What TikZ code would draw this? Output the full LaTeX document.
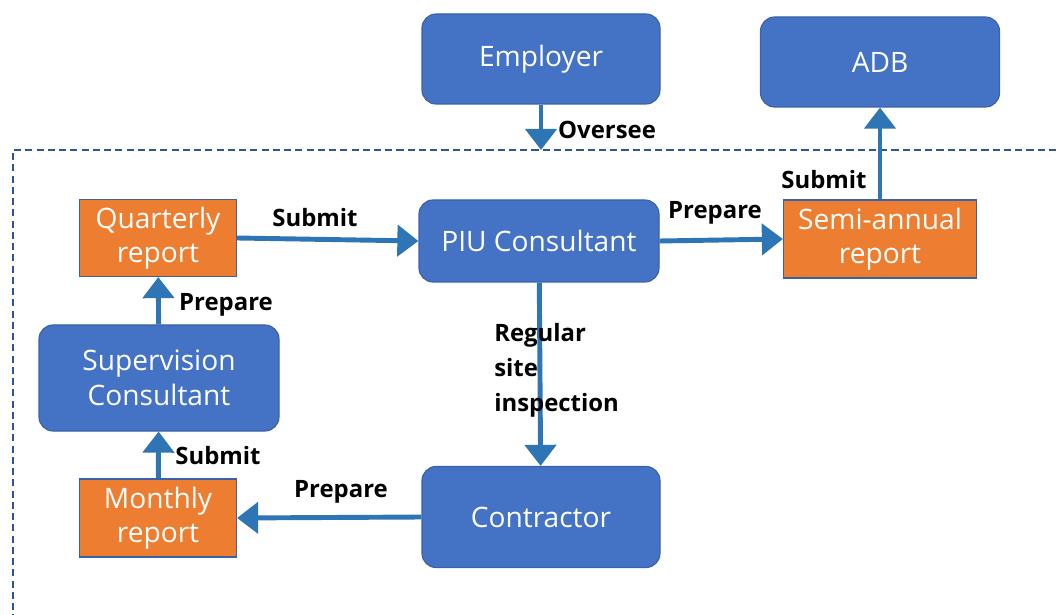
\documentclass[tikz,border=0pt]{standalone}
\usepackage{fontspec}
\setmainfont{Open Sans}
\usetikzlibrary{arrows.meta}
\definecolor{boxblue}{HTML}{4472C4}
\definecolor{boxedge}{HTML}{3A62A8}
\definecolor{repfill}{HTML}{ED7D31}
\definecolor{flowblue}{HTML}{2E75B6}
\definecolor{frameblue}{HTML}{2F5597}
\def\px{0.025cm}

\begin{document}
\begin{tikzpicture}[x=\px,y=-\px]
	\tikzstyle{party}=[rectangle,rounded corners=10pt,fill=boxblue,draw=boxedge,line width=0.8pt,text=white,font=\fontsize{20}{24.5}\selectfont,align=center,inner sep=0pt]
	\tikzstyle{report}=[rectangle,fill=repfill,draw=boxedge,line width=0.8pt,text=white,font=\fontsize{20}{24.5}\selectfont,align=center,inner sep=0pt]
	\tikzstyle{flow}=[-{Triangle[width=22pt,length=15pt]},draw=flowblue,fill=flowblue,line width=3.5pt]
	\tikzstyle{annot}=[font=\fontsize{17}{25}\selectfont\bfseries,inner sep=0pt]
	
	\useasboundingbox (0,0) rectangle (1056,615);
	
	% Dashed frame round the project, cut by the picture's edge
	\draw[frameblue,line width=1pt,dash pattern=on 5pt off 3pt] (1056,150) -- (13,150) -- (13,615);
	\coordinate (frame) at (541,150);
	
	% Parties
	\node[party,minimum width=238*\px,minimum height=90*\px] (employer) at (541,59) {Employer};
	\node[party,minimum width=239*\px,minimum height=90*\px] (adb) at (880,62) {ADB};
	\node[party,minimum width=240*\px,minimum height=82*\px] (piu) at (539,241) {PIU Consultant};
	\node[party,minimum width=240*\px,minimum height=106*\px] (sup) at (159,378) {Supervision\\Consultant};
	\node[party,minimum width=238*\px,minimum height=101*\px] (contractor) at (541,517) {Contractor};
	
	% Reports
	\node[report,minimum width=157*\px,minimum height=77*\px] (quarterly) at (158,238) {Quarterly\\report};
	\node[report,minimum width=193*\px,minimum height=78*\px] (semi) at (880,239) {Semi-annual\\report};
	\node[report,minimum width=157*\px,minimum height=78*\px] (monthly) at (158,518) {Monthly\\report};
	
	% Connect the boxes
	\draw[flow] (employer) -- (frame);
	\draw[flow] (quarterly.east) -- (piu.west);
	\draw[flow] (piu.east) -- (semi.west);
	\draw[flow] (semi) -- (adb);
	\draw[flow] (piu) -- (contractor);
	\draw[flow] (sup) -- (quarterly);
	\draw[flow] (monthly) -- (sup);
	\draw[flow] (contractor.west) -- (monthly.east);
	
	% Annotate the arrows
	\node[annot] (l-oversee) at (607,130) {Oversee};
	\node[annot] (l-submit1) at (315,218) {Submit};
	\node[annot] (l-prepare1) at (715,213) {Prepare};
	\node[annot] (l-submit2) at (824,180) {Submit};
	\node[annot] (l-prepare2) at (226,305) {Prepare};
	\node[annot] (l-submit3) at (218,456) {Submit};
	\node[annot] (l-prepare3) at (341,492) {Prepare};
	\node[annot,anchor=west,align=left] (l-inspect) at (494,370) {Regular\\site\\inspection};
\end{tikzpicture}
\end{document}
